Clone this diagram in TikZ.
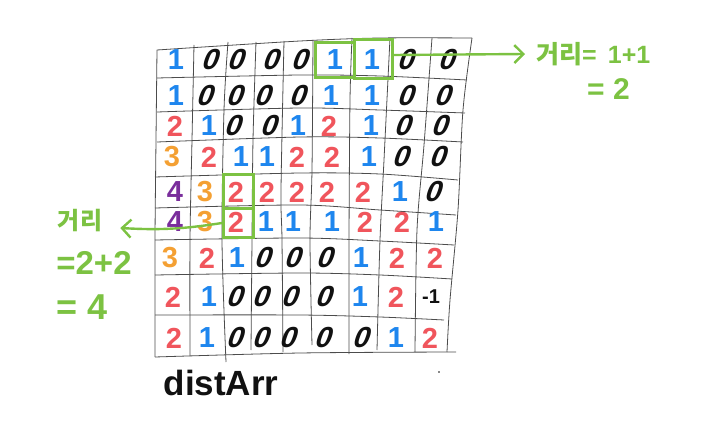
\documentclass[tikz,border=0pt]{standalone}
\usepackage{fontspec}
\setmainfont{Liberation Sans}
\newfontfamily\cjk{Noto Sans CJK KR}
\usetikzlibrary{arrows.meta}
\definecolor{pen0}{HTML}{111111}
\definecolor{pen1}{HTML}{1E86EE}
\definecolor{pen2}{HTML}{F0555C}
\definecolor{pen3}{HTML}{F4A033}
\definecolor{pen4}{HTML}{7A2E9C}
\definecolor{penGreen}{HTML}{7CC242}
\newcommand{\digitfont}{\fontsize{29}{29}\selectfont}
\begin{document}
\begin{tikzpicture}[
    x=1pt, y=-1pt,
    >={Straight Barb[length=9pt,width=18pt]},
    gridline/.style = {draw=black!70, line width=.8pt},
    val0/.style = {text=pen0, font=\digitfont\bfseries, xslant=.35, transform shape, inner sep=0pt},
    val1/.style = {text=pen1, font=\digitfont\bfseries, inner sep=0pt},
    val2/.style = {text=pen2, font=\digitfont\bfseries, inner sep=0pt},
    val3/.style = {text=pen3, font=\digitfont\bfseries, inner sep=0pt},
    val4/.style = {text=pen4, font=\digitfont\bfseries, inner sep=0pt},
    hibox/.style = {draw=penGreen, line width=3pt, inner sep=0pt, anchor=north west},
    hiarrow/.style = {->, draw=penGreen, line width=2.4pt},
    note/.style = {text=penGreen, inner sep=0pt},
  ]
	\useasboundingbox (0,0) rectangle (710,433);
	
	% horizontal lines
	\draw[gridline] plot[smooth] coordinates {(157,50) (300,41) (380,38) (472,38)};
	\draw[gridline] plot[smooth] coordinates {(157,78) (300,75) (380,76) (467,80)};
	\draw[gridline] plot[smooth] coordinates {(157,112) (300,108) (380,110) (465,113)};
	\draw[gridline] plot[smooth] coordinates {(157,142) (300,137) (380,138) (463,142)};
	\draw[gridline] plot[smooth] coordinates {(155,177) (300,173) (380,174) (458,180)};
	\draw[gridline] plot[smooth] coordinates {(155,208) (300,205) (380,210) (456,215)};
	\draw[gridline] plot[smooth] coordinates {(155,240) (300,238) (380,241) (454,245)};
	\draw[gridline] plot[smooth] coordinates {(155,275) (300,273) (380,275) (452,279)};
	\draw[gridline] plot[smooth] coordinates {(155,315) (300,315) (380,317) (444,320)};
	\draw[gridline] plot[smooth] coordinates {(155,357) (300,353) (456,352)};
	
	% vertical lines
	\draw[gridline] plot[smooth] coordinates {(157,50) (156,140) (155,240) (155,357)};
	\draw[gridline] plot[smooth] coordinates {(194,45) (192,140) (190,240) (190,356)};
	\draw[gridline] plot[smooth] coordinates {(228,42) (224,110) (222,240) (226,362)};
	\draw[gridline] plot[smooth] coordinates {(256,42) (253,140) (252,240) (251,350)};
	\draw[gridline] plot[smooth] coordinates {(284,41) (281,190) (282,240) (283,352)};
	\draw[gridline] plot[smooth] coordinates {(313,40) (312,170) (310,240) (312,345)};
	\draw[gridline] plot[smooth] coordinates {(352,38) (350,100) (349,240) (349,354)};
	\draw[gridline] plot[smooth] coordinates {(390,38) (384,160) (380,240) (377,350)};
	\draw[gridline] plot[smooth] coordinates {(432,38) (424,145) (417,230) (415,352)};
	\draw[gridline] plot[smooth] coordinates {(472,38) (463,110) (458,210) (450,300) (447,352)};
	
	% cell values, one row at a time
	\foreach \ypos/\cells [count=\r] in {
		60/{176/1,212/0,238/0,273/0,302/0,335/1,372/1,408/0,449/0},
		96/{176/1,207/0,237/0,265/0,300/0,331/1,372/1,408/0,445/0},
		126/{175/2,209/1,235/0,271/0,298/1,329/2,371/1,405/0,442/0},
		157/{172/3,209/2,241/1,267/1,297/2,332/2,369/1,403/0,440/0},
		192/{175/4,205/3,236/2,267/2,297/2,327/2,363/2,400/1,435/0},
		222/{175/4,205/3,236/2,266/1,293/1,332/1,365/2,402/2,436/1},
		258/{170/3,207/2,237/1,265/0,295/0,327/0,361/1,397/2,435/2},
		297/{173/2,209/1,237/0,263/0,292/0,326/0,360/1,396/2},
		338/{174/2,207/1,237/0,263/0,290/0,325/0,363/0,396/1,430/2}}
	{
		\foreach \xpos/\val [count=\c] in \cells
			\node[val\val] (r\r c\c) at (\xpos,\ypos) {\val};
	}
	\node[text=pen0, font=\fontsize{20}{20}\selectfont\bfseries, inner sep=0pt] (r8c9) at (431,297) {-1};
	
	% array name
	\node[text=pen0, font=\fontsize{35}{35}\selectfont\bfseries, inner sep=0pt] (arrName) at (221,383) {distArr};
	\fill[pen0] (439,372) circle (.8);
	
	% highlighted cells
	\node[hibox, minimum width=39pt, minimum height=35pt] (boxA) at (314,41) {};
	\node[hibox, minimum width=38pt, minimum height=39pt] (boxB) at (353,38) {};
	\node[hibox, minimum width=30pt, minimum height=34pt] (boxC) at (222,173) {};
	\node[hibox, minimum width=30pt, minimum height=29pt] (boxD) at (222,207) {};
	
	% notes
	\node[note, anchor=west, font=\fontsize{25}{25}\selectfont\bfseries] (noteTop) at (536,54) {{\cjk 거리}= \,1+1};
	\node[note, anchor=west, font=\fontsize{30}{30}\selectfont\bfseries] (noteTopSum) at (587,89) {= 2};
	\node[note, font=\cjk\bfseries\fontsize{24}{24}\selectfont] (noteLeft) at (80,221) {거리};
	\node[note, font=\fontsize{33}{33}\selectfont\bfseries] (noteLeftSum) at (94,263) {=2+2};
	\node[note, font=\fontsize{36}{36}\selectfont\bfseries] (noteLeftRes) at (82,307) {= 4};
	
	% arrows
	\draw[hiarrow] ([yshift=4pt]boxB.east) -- ([xshift=-11pt]noteTop.west);
	\draw[hiarrow] (boxD.west) to[bend left=6] ([xshift=18pt,yshift=-7pt]noteLeft.east);
	
\end{tikzpicture}
\end{document}
